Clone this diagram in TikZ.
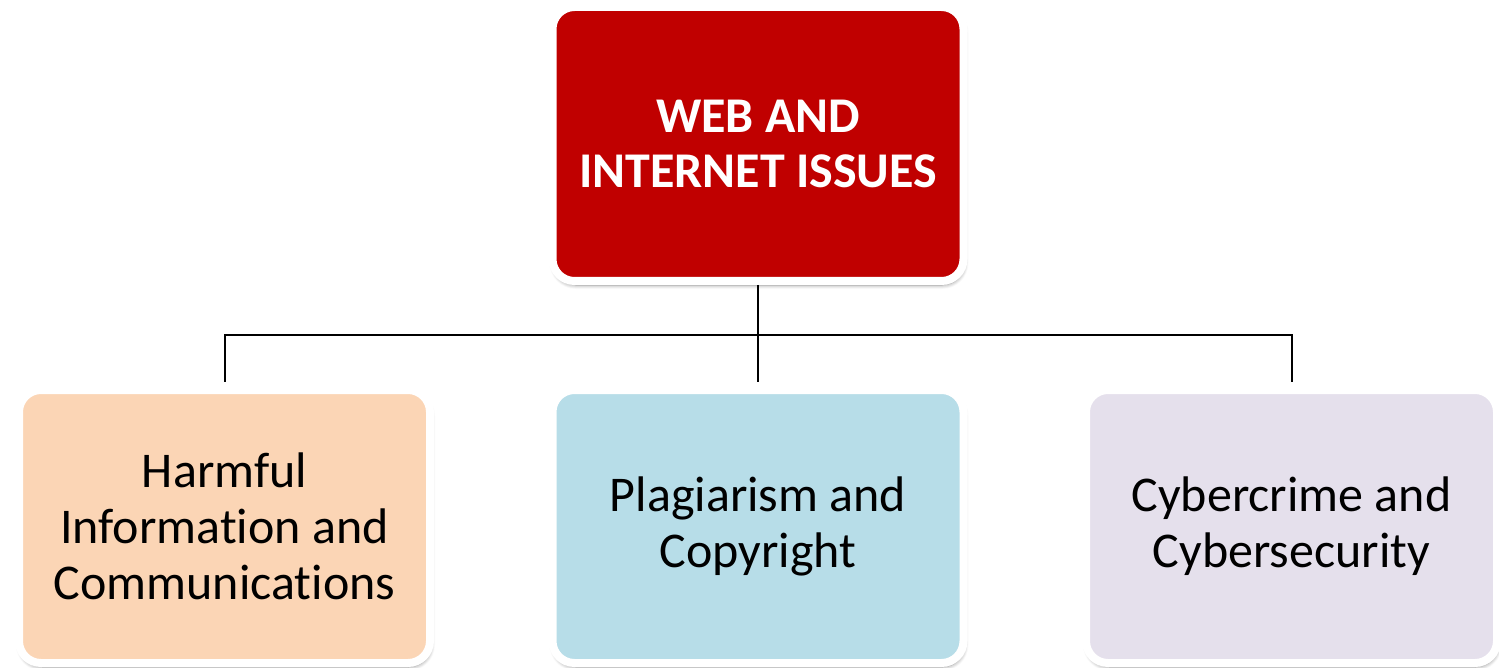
\documentclass[tikz,border=0pt]{standalone}
\usepackage{fontspec}
\setmainfont[Ligatures={NoCommon,NoDiscretionary,NoRare}]{Carlito}
\usetikzlibrary{shadows.blur,calc}
\definecolor{topred}{HTML}{C00000}
\definecolor{cpeach}{HTML}{FBD5B5}
\definecolor{cblue}{HTML}{B7DDE8}
\definecolor{clav}{HTML}{E5E0EC}
\tikzset{
  card/.style={rectangle, rounded corners=22pt, draw=white, line width=8pt,
    minimum width=411pt, minimum height=273pt, align=center, inner sep=0pt,
    blur shadow={shadow xshift=1pt, shadow yshift=-4pt, shadow blur steps=6, shadow blur radius=4pt, shadow opacity=45}},
  headcard/.style={card, fill=topred, text=white, minimum height=274pt,
    font={\fontsize{50}{55}\selectfont\bfseries}},
  subcard/.style={card, text=black, font={\fontsize{50}{56}\selectfont}},
  link/.style={draw=black, line width=2pt}
}
\begin{document}
\begin{tikzpicture}[x=1pt,y=-1pt]
\useasboundingbox (0,0) rectangle (1499,668);
\node[headcard] (top) at (758,144) {WEB AND\\INTERNET ISSUES};
\node[subcard, fill=cpeach] (harm) at (224.5,526.5) {Harmful\\Information and\\Communications};
\node[subcard, fill=cblue] (plag) at (758,526.5) {Plagiarism and\\Copyright};
\node[subcard, fill=clav] (cyber) at (1291.5,526.5) {Cybercrime and\\Cybersecurity};
\coordinate (bus) at (758,335);
\draw[link] (top.south) -- (bus);
\draw[link, shorten >=4.5pt] (bus) -- (plag.north);
\draw[link, shorten >=4.5pt] (bus) -| (harm.north);
\draw[link, shorten >=4.5pt] (bus) -| (cyber.north);
\end{tikzpicture}
\end{document}
